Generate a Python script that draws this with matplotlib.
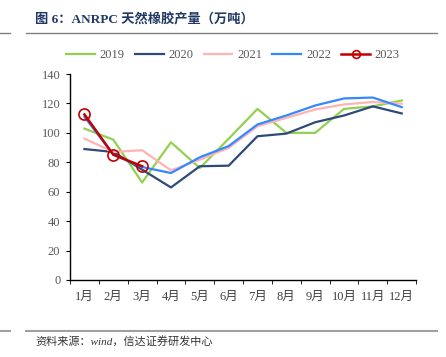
import numpy as np
import matplotlib.pyplot as plt
from matplotlib.lines import Line2D

plt.rcParams['font.family'] = ['Liberation Serif', 'Noto Sans CJK SC', 'DejaVu Sans']

# ANRPC monthly natural rubber output (10k tonnes)
months = ['1月', '2月', '3月', '4月', '5月', '6月', '7月', '8月', '9月', '10月', '11月', '12月']
y2019 = [102.9, 95.4, 66.3, 93.6, 76.1, 96.0, 116.3, 100.0, 100.0, 116.3, 118.0, 122.0]
y2020 = [89.0, 87.0, 75.0, 62.9, 77.3, 77.7, 97.7, 99.5, 107.2, 111.8, 118.0, 113.2]
y2021 = [96.1, 87.0, 88.2, 74.5, 81.8, 89.8, 104.5, 110.2, 115.9, 119.3, 121.0, 119.8]
y2022 = [110.9, 85.2, 76.8, 72.7, 83.4, 91.0, 105.7, 111.8, 118.6, 123.4, 124.0, 117.5]
y2023 = [112.5, 85.2, 77.3]

fig = plt.figure(figsize=(4.46, 3.57), dpi=100)
ax = fig.add_axes([0.157, 0.2157, 0.776, 0.577])

x = np.arange(len(months))
ax.plot(x, y2019, color='#92D050', lw=1.6, label='2019')
ax.plot(x, y2020, color='#2E4A7A', lw=1.6, label='2020')
ax.plot(x, y2021, color='#FFB3B3', lw=1.6, label='2021')
ax.plot(x, y2022, color='#3388FF', lw=1.6, label='2022')
ax.plot(x[:len(y2023)], y2023, color='#C00000', lw=1.8, marker='o', ms=8,
        mfc='none', mec='#C00000', mew=1.2, label='2023')

ax.set_xlim(-0.5, 11.5)
ax.set_ylim(0, 140)
ax.set_yticks(np.arange(0, 141, 20))
ax.set_xticks(x)
ax.set_xticklabels(months)
ax.set_xticks(np.arange(-0.5, 12, 1), minor=True)
ax.tick_params(axis='x', which='major', length=0, pad=8, labelsize=9, colors='#404040')
ax.tick_params(axis='x', which='minor', length=3, direction='out', color='black')
ax.tick_params(axis='y', length=3, direction='out', labelsize=9, pad=4)
ax.tick_params(axis='y', colors='black', labelcolor='#595959')
for s in ['top', 'right']:
    ax.spines[s].set_visible(False)
for s in ['left', 'bottom']:
    ax.spines[s].set_color('black')
    ax.spines[s].set_linewidth(1)

ax.legend(loc='center', bbox_to_anchor=(233 / 446, 1 - 55 / 357), bbox_transform=fig.transFigure,
          ncol=5, frameon=False, fontsize=9, handlelength=2.3, handletextpad=0.4,
          columnspacing=0.8, labelcolor='#595959', markerscale=0.7)

# title, rules and source note
fig.text(35 / 446, 1 - 20 / 357, '图 6：ANRPC 天然橡胶产量（万吨）', fontsize=9.5, fontweight='bold',
         color='#1F3864', va='center', ha='left')
fig.add_artist(Line2D([26 / 446, 437 / 446], [1 - 33 / 357] * 2, color='#808080', lw=1))
fig.add_artist(Line2D([0, 10 / 446], [1 - 33 / 357] * 2, color='#808080', lw=1))
fig.add_artist(Line2D([26 / 446, 437 / 446], [1 - 331 / 357] * 2, color='#A0A0A0', lw=1.5))
fig.add_artist(Line2D([0, 10 / 446], [1 - 331 / 357] * 2, color='#A0A0A0', lw=1.5))
fig.text(35 / 446, 1 - 341 / 357, '资料来源：wind，信达证券研发中心', fontsize=8, style='italic',
         color='#333333', va='center', ha='left')

fig.savefig('out.png', dpi=100)
